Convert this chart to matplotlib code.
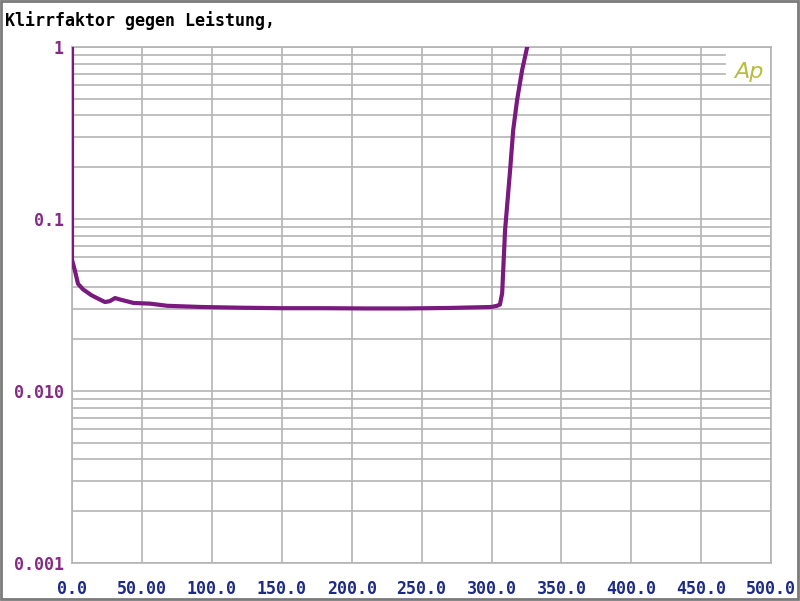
import numpy as np
import matplotlib.pyplot as plt
from matplotlib.patches import Rectangle

# Klirrfaktor (%) gegen Leistung (W)
power = [0.0, 0.0, 1.0, 2.1, 4.3, 7.9, 14.0, 20.0, 23.6, 27.0, 30.8, 34.0, 44.0,
         56.0, 68.0, 92.0, 120.0, 150.0, 180.0, 210.0, 240.0, 270.0,
         300.0, 304.0, 306.0, 307.6, 309.7, 313.3, 315.5, 318.3, 321.9, 325.5]
thd = [1.0, 0.058, 0.054, 0.050, 0.042, 0.039, 0.036, 0.034, 0.0329, 0.0333, 0.0347,
       0.0341, 0.0325, 0.0322, 0.0313, 0.0308, 0.0305, 0.0303, 0.0303, 0.0302,
       0.0302, 0.0304, 0.0308, 0.0313, 0.0318, 0.037, 0.0863, 0.193,
       0.329, 0.492, 0.735, 1.0]

x_ticks = [0, 50, 100, 150, 200, 250, 300, 350, 400, 450, 500]
x_labels = ["0.0", "50.00", "100.0", "150.0", "200.0", "250.0", "300.0",
            "350.0", "400.0", "450.0", "500.0"]
y_ticks = [0.001, 0.01, 0.1, 1]
y_labels = ["0.001", "0.010", "0.1", "1"]

fig = plt.figure(figsize=(8, 6.01), dpi=100)
ax = fig.add_axes([0.09, 0.0632, 0.874, 0.8586])

ax.set_yscale('log')
ax.set_xlim(0, 500)
ax.set_ylim(0.001, 1)

grid_col = '#b4b4b4'
minor = [m * 10.0**e for e in (-3, -2, -1) for m in range(2, 10)]
for v in minor + y_ticks:
    # the top three lines leave room for the Ap logo
    xmax = 0.934 if v in (minor[-1], minor[-2], minor[-3]) else 1
    ax.axhline(v, xmax=xmax, color=grid_col, lw=1.2, zorder=1)
for v in x_ticks:
    ax.axvline(v, color=grid_col, lw=1.2, zorder=1)

ax.plot(power, thd, color='#7a1a7e', lw=3, zorder=3, solid_joinstyle='round')

ax.set_xticks(x_ticks)
ax.set_xticklabels(x_labels, color='#1c2a86', fontsize=12, family='DejaVu Sans Mono',
                   fontweight='bold')
ax.set_yticks(y_ticks)
ax.set_yticklabels(y_labels, color='#862a86', fontsize=12, family='DejaVu Sans Mono',
                   fontweight='bold')
ax.minorticks_off()
ax.tick_params(axis='y', length=0, pad=6)
ax.tick_params(axis='x', length=0, pad=12.5)
for s in ax.spines.values():
    s.set_color(grid_col)
    s.set_linewidth(1.2)

ax.text(0.968, 0.951, "Ap", transform=ax.transAxes, color='#b7bd3a', fontsize=16,
        fontstyle='italic', fontweight='light', ha='center', va='center', zorder=4)

fig.text(0.006, 0.966, "Klirrfaktor gegen Leistung,", family='DejaVu Sans Mono',
         fontweight='bold', fontsize=12, color='black', va='center')

fig.patches.append(Rectangle((0.001, 0.003), 0.997, 0.995, transform=fig.transFigure,
                             fill=False, edgecolor='#7a7a7a', lw=2))

fig.savefig('out.png', dpi=100)
